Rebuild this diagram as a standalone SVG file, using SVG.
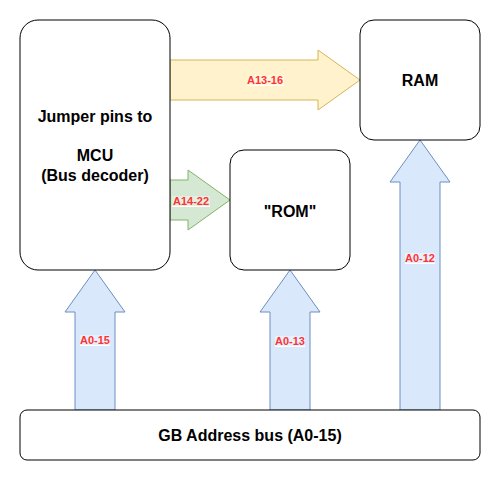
<svg xmlns="http://www.w3.org/2000/svg" width="501" height="481" viewBox="0 0 501 481">
<style>
.box{fill:#fff;stroke:#000;stroke-width:1}
.t{font-family:"Liberation Sans",Arial,sans-serif;font-weight:bold;font-size:16px;fill:#000;text-anchor:middle}
.lbl{font-family:"Liberation Sans",Arial,sans-serif;font-weight:bold;font-size:11px;fill:#ff3333;text-anchor:middle}
.lbg{fill:#fff;fill-opacity:0.35}
.ul{fill:#fff}
.blue{fill:#dae8fc;stroke:#6c8ebf}
.yel{fill:#fff2cc;stroke:#d6b656}
.grn{fill:#d5e8d4;stroke:#82b366}
</style>
<rect width="501" height="481" fill="#fff"/>
<g id="connectors">
<g id="a13-16"><path class="yel" d="M170,60 H318 V50 L360,80 L318,110 V100 H170 Z"/><rect class="lbg" x="247" y="75" width="37" height="10"/><rect class="ul" x="247" y="85" width="37" height="1"/><text class="lbl" x="265" y="84">A13-16</text></g>
<g id="a14-22"><path class="grn" d="M170,180 H188 V170 L230,200 L188,230 V220 H170 Z"/><rect class="lbg" x="172" y="196" width="38" height="10"/><rect class="ul" x="172" y="206" width="38" height="1"/><text class="lbl" x="191" y="205">A14-22</text></g>
<g id="a0-15"><path class="blue" d="M75,410 V312 H65 L95,270 L125,312 H115 V410 Z"/><rect class="lbg" x="80" y="335" width="30" height="10"/><rect class="ul" x="80" y="345" width="30" height="1"/><text class="lbl" x="95" y="344">A0-15</text></g>
<g id="a0-13"><path class="blue" d="M270,410 V312 H260 L290,270 L320,312 H310 V410 Z"/><rect class="lbg" x="275" y="336" width="30" height="10"/><rect class="ul" x="275" y="346" width="30" height="1"/><text class="lbl" x="290" y="345">A0-13</text></g>
<g id="a0-12"><path class="blue" d="M400,410 V182 H390 L420,140 L450,182 H440 V410 Z"/><rect class="lbg" x="405" y="253" width="30" height="10"/><rect class="ul" x="405" y="263" width="30" height="1"/><text class="lbl" x="420" y="262">A0-12</text></g>
</g>
<g id="mcu"><rect class="box" x="20" y="20" width="150" height="250" rx="18"/>
<text class="t" x="95" y="122">Jumper pins to</text>
<text class="t" x="95" y="161">MCU</text>
<text class="t" x="95" y="181">(Bus decoder)</text></g>
<g id="ram"><rect class="box" x="360" y="20" width="120" height="120" rx="14"/><text class="t" x="420" y="86">RAM</text></g>
<g id="rom"><rect class="box" x="230" y="150" width="120" height="120" rx="14"/><text class="t" x="290" y="217">"ROM"</text></g>
<g id="bus"><rect class="box" x="20" y="410" width="460" height="50" rx="7"/><text class="t" x="250" y="441">GB Address bus (A0-15)</text></g>
</svg>
